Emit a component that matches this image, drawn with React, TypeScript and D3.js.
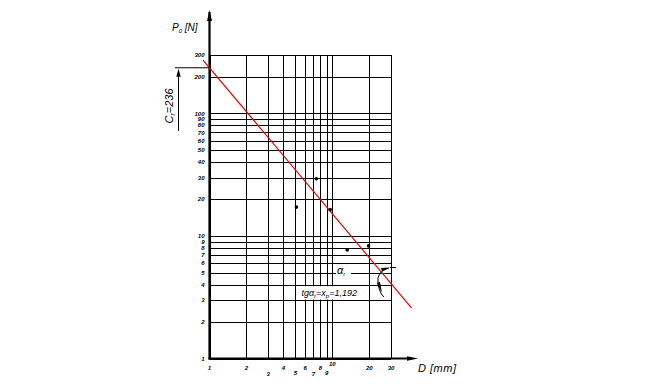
import React, { useEffect, useRef } from 'react';
import * as d3 from 'd3';

// axis ticks (log scales)
const xTicks = [1, 2, 3, 4, 5, 6, 7, 8, 9, 10, 20, 30];
const xTickShift = [0, 0, 6, 0, 5, 0, 6, 0, 5, -4, 0, 0];
const yTicks = [1, 2, 3, 4, 5, 6, 7, 8, 9, 10, 20, 30, 40, 50, 60, 70, 80, 90, 100, 200, 300];

// measured points
const pointD = [5.1, 7.4, 9.6, 13.2, 19.7];
const pointP = [17.2, 29.3, 16.4, 7.7, 8.3];

// fitted line P0 = Cr * D^-xp
const Cr = 236;
const xp = 1.192;
const lineD = [0.885, 44];

const App: React.FC = () => {
  const svgRef = useRef<SVGSVGElement>(null);

  useEffect(() => {
    if (!svgRef.current) return;
    const svg = d3.select(svgRef.current);
    svg.selectAll('*').remove();

    const x = d3.scaleLog().domain([1, 30]).range([209.5, 391]);
    const y = d3.scaleLog().domain([1, 300]).range([358.5, 55]);
    const font = "'Liberation Sans', Arial, sans-serif";
    const [x0, x1] = x.range();
    const [y0, y1] = y.range();

    const g = svg.append('g');

    // grid
    g.selectAll('.hgrid')
      .data(yTicks)
      .enter()
      .append('line')
      .attr('x1', x0)
      .attr('x2', x1)
      .attr('y1', d => Math.round(y(d)) + 0.5)
      .attr('y2', d => Math.round(y(d)) + 0.5)
      .attr('stroke', '#000')
      .attr('stroke-width', 1);

    g.selectAll('.vgrid')
      .data(xTicks)
      .enter()
      .append('line')
      .attr('x1', d => Math.round(x(d)) + 0.5)
      .attr('x2', d => Math.round(x(d)) + 0.5)
      .attr('y1', y1)
      .attr('y2', y0)
      .attr('stroke', '#000')
      .attr('stroke-width', 1);

    // white box behind the formula
    g.append('rect')
      .attr('x', x(5) + 1.5)
      .attr('y', y(4) + 1.5)
      .attr('width', x(19) - x(5) - 2)
      .attr('height', y(3) - y(4) - 2)
      .attr('fill', '#fff');

    // axes
    g.append('line')
      .attr('x1', x0).attr('x2', x0)
      .attr('y1', y0 + 1).attr('y2', 12)
      .attr('stroke', '#000').attr('stroke-width', 2.2);
    g.append('polygon')
      .attr('points', `${x0 - 2.5},21 ${x0 + 2.5},21 ${x0},10`)
      .attr('fill', '#000');

    g.append('line')
      .attr('x1', x0 - 1).attr('x2', 412)
      .attr('y1', y0).attr('y2', y0)
      .attr('stroke', '#000').attr('stroke-width', 2.2);
    g.append('polygon')
      .attr('points', `407,${y0 - 2.2} 407,${y0 + 2.2} 418,${y0}`)
      .attr('fill', '#000');

    // tick labels
    g.selectAll('.ylab')
      .data(yTicks)
      .enter()
      .append('text')
      .attr('x', x0 - 5)
      .attr('y', d => y(d))
      .attr('dy', '0.35em')
      .attr('text-anchor', 'end')
      .style('font-family', font)
      .style('font-style', 'italic')
      .style('font-weight', 'bold')
      .style('font-size', '6px')
      .text(d => d);

    g.selectAll('.xlab')
      .data(xTicks)
      .enter()
      .append('text')
      .attr('x', d => x(d))
      .attr('y', (d, i) => 370 + xTickShift[i])
      .attr('text-anchor', 'middle')
      .style('font-family', font)
      .style('font-style', 'italic')
      .style('font-weight', 'bold')
      .style('font-size', '6px')
      .text(d => d);

    // axis titles
    const py = g.append('text')
      .attr('x', 172)
      .attr('y', 31)
      .style('font-family', font)
      .style('font-style', 'italic')
      .style('font-size', '10px');
    py.append('tspan').text('P');
    py.append('tspan').attr('dy', 2).style('font-size', '6px').text('0');
    py.append('tspan').attr('dy', -2).text(' [N]');

    g.append('text')
      .attr('x', 418)
      .attr('y', 372)
      .style('font-family', font)
      .style('font-style', 'italic')
      .style('font-size', '11px')
      .style('letter-spacing', '0.5px')
      .text('D  [mm]');

    // fitted line
    const fit = (d: number) => Cr * Math.pow(d, -xp);
    g.append('line')
      .attr('x1', x(lineD[0])).attr('y1', y(fit(lineD[0])))
      .attr('x2', x(lineD[1])).attr('y2', y(fit(lineD[1])))
      .attr('stroke', '#f00000')
      .attr('stroke-width', 1.2);

    // points
    g.selectAll('.pt')
      .data(pointD)
      .enter()
      .append('circle')
      .attr('cx', d => x(d))
      .attr('cy', (d, i) => y(pointP[i]))
      .attr('r', 1.8)
      .attr('fill', '#000');

    // Cr dimension
    const yc = y(Cr);
    g.append('line')
      .attr('x1', 175).attr('x2', x0)
      .attr('y1', yc).attr('y2', yc)
      .attr('stroke', '#000').attr('stroke-width', 1);
    g.append('line')
      .attr('x1', 178.5).attr('x2', 178.5)
      .attr('y1', yc + 6).attr('y2', y(72))
      .attr('stroke', '#000').attr('stroke-width', 1);
    g.append('polygon')
      .attr('points', `${176.3},${yc + 9} ${180.7},${yc + 9} 178.5,${yc + 1}`)
      .attr('fill', '#000');
    const cr = g.append('text')
      .attr('transform', `translate(173,${y(115)}) rotate(-90)`)
      .attr('text-anchor', 'middle')
      .style('font-family', font)
      .style('font-style', 'italic')
      .style('font-size', '11px');
    cr.append('tspan').text('C');
    cr.append('tspan').attr('dy', 2).style('font-size', '7px').text('r');
    cr.append('tspan').attr('dy', -2).text('=236');

    // formula
    const tf = g.append('text')
      .attr('x', x(5) + 6)
      .attr('y', y(3.45))
      .attr('dy', '0.35em')
      .style('font-family', font)
      .style('font-style', 'italic')
      .style('font-size', '9px');
    tf.append('tspan').text('tg\u03b1');
    tf.append('tspan').attr('dy', 2).style('font-size', '6px').text('r');
    tf.append('tspan').attr('dy', -2).text('=x');
    tf.append('tspan').attr('dy', 2).style('font-size', '6px').text('p');
    tf.append('tspan').attr('dy', -2).text('=1,192');

    // angle alpha_r
    g.append('rect')
      .attr('x', 336).attr('y', 265)
      .attr('width', 15).attr('height', 12)
      .attr('fill', '#fff');
    const ta = g.append('text')
      .attr('x', 337)
      .attr('y', 274)
      .style('font-family', font)
      .style('font-style', 'italic')
      .style('font-size', '11px');
    ta.append('tspan').text('\u03b1');
    ta.append('tspan').attr('dy', 2).style('font-size', '6px').text('r');

    g.append('line')
      .attr('x1', 390).attr('x2', 396)
      .attr('y1', 267.5).attr('y2', 267.5)
      .attr('stroke', '#000').attr('stroke-width', 1);
    g.append('path')
      .attr('d', 'M389,268 Q376,271 378,284 Q380,294 384,297')
      .attr('fill', 'none')
      .attr('stroke', '#000')
      .attr('stroke-width', 1);
    g.append('polygon')
      .attr('points', '390,267.5 381,268 382,271.5')
      .attr('fill', '#000');
    g.append('polygon')
      .attr('points', '377,283 380,282 382,293')
      .attr('fill', '#000');
  }, []);

  return (
    <svg
      ref={svgRef}
      width={650}
      height={392}
      style={{ position: 'absolute', left: 0, top: 0, background: '#fff' }}
    />
  );
};

export default App;
